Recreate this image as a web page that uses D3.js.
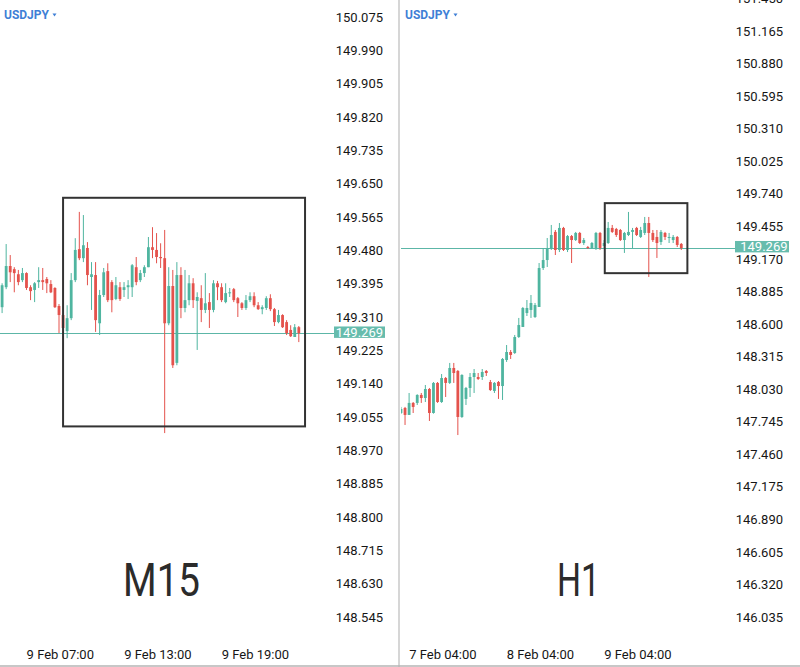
<!DOCTYPE html>
<html><head><meta charset="utf-8">
<script src="https://cdn.jsdelivr.net/npm/d3@7"></script>
<style>html,body{margin:0;padding:0;background:#fff;}svg{display:block;font-family:Roboto,"Noto Sans",sans-serif;}</style>
</head><body><svg id="chart" width="800" height="667"></svg>
<script>
// ---------------- DATA ----------------
const symbol = "USDJPY";
const lastPrice = 149.269;
const m15Title = "M15";
const h1Title = "H1";

// M15 candles [open, high, low, close], starting 9 Feb 03:30, 15-minute bars
const m15Start = "2024-02-09T03:30";
const m15Candles = [
 [149.335,149.396,149.320,149.391],[149.386,149.496,149.381,149.440],[149.440,149.468,149.399,149.424],
 [149.432,149.437,149.373,149.422],[149.419,149.430,149.391,149.399],[149.404,149.435,149.399,149.422],
 [149.422,149.424,149.379,149.384],[149.386,149.391,149.353,149.376],[149.379,149.399,149.348,149.396],
 [149.399,149.437,149.384,149.404],[149.404,149.435,149.379,149.399],[149.407,149.412,149.371,149.396],
 [149.394,149.404,149.371,149.373],[149.384,149.386,149.333,149.335],[149.338,149.343,149.269,149.315],
 [149.315,149.320,149.269,149.282],[149.274,149.340,149.256,149.307],[149.307,149.422,149.302,149.404],
 [149.404,149.511,149.399,149.481],[149.483,149.578,149.455,149.460],[149.460,149.570,149.450,149.493],
 [149.486,149.501,149.391,149.417],[149.412,149.450,149.328,149.419],[149.417,149.450,149.272,149.302],
 [149.294,149.379,149.264,149.366],[149.366,149.435,149.361,149.424],[149.427,149.447,149.348,149.353],
 [149.399,149.404,149.322,149.353],[149.356,149.412,149.353,149.391],[149.386,149.399,149.351,149.356],
 [149.379,149.399,149.361,149.386],[149.386,149.404,149.356,149.391],[149.386,149.445,149.361,149.442],
 [149.437,149.463,149.391,149.399],[149.404,149.430,149.399,149.422],[149.422,149.442,149.412,149.437],
 [149.437,149.514,149.437,149.488],[149.488,149.539,149.460,149.481],[149.481,149.524,149.447,149.463],
 [149.463,149.498,149.435,149.460],[149.460,149.532,149.014,149.294],[149.294,149.437,149.289,149.389],
 [149.389,149.430,149.180,149.187],[149.193,149.450,149.187,149.417],[149.417,149.437,149.307,149.333],
 [149.333,149.430,149.322,149.353],[149.353,149.417,149.340,149.396],[149.396,149.409,149.333,149.353],
 [149.351,149.373,149.226,149.361],[149.358,149.391,149.297,149.328],[149.328,149.422,149.320,149.345],
 [149.348,149.371,149.282,149.328],[149.328,149.404,149.322,149.396],[149.396,149.402,149.353,149.386],
 [149.386,149.396,149.348,149.353],[149.348,149.396,149.345,149.371],[149.371,149.384,149.361,149.373],
 [149.381,149.384,149.348,149.353],[149.358,149.361,149.310,149.345],[149.345,149.348,149.328,149.333],
 [149.333,149.366,149.328,149.353],[149.353,149.373,149.348,149.363],[149.363,149.373,149.335,149.340],
 [149.340,149.348,149.328,149.330],[149.330,149.340,149.317,149.335],[149.333,149.363,149.328,149.358],
 [149.358,149.368,149.325,149.330],[149.330,149.333,149.287,149.297],[149.297,149.328,149.294,149.315],
 [149.315,149.317,149.282,149.284],[149.297,149.302,149.264,149.269],[149.277,149.289,149.259,149.261],
 [149.259,149.292,149.259,149.284],[149.284,149.287,149.246,149.269]
];
const m15PriceTicks = [150.075,149.990,149.905,149.820,149.735,149.650,149.565,149.480,149.395,149.310,
  149.225,149.140,149.055,148.970,148.885,148.800,148.715,148.630,148.545];
const m15TimeTicks = ["2024-02-09T07:00","2024-02-09T13:00","2024-02-09T19:00"];
// highlighted zone on M15: [start time, end time, top price, bottom price]
const m15Box = ["2024-02-09T07:15","2024-02-09T22:08",149.614,149.031];

// H1 candles [open, high, low, close], starting 6 Feb 18:00, hourly bars
const h1Start = "2024-02-06T18:00";
const h1Candles = [
 [147.821,147.874,147.812,147.856],[147.865,147.874,147.716,147.804],[147.804,147.996,147.804,147.909],
 [147.909,147.917,147.821,147.874],[147.909,147.985,147.891,147.979],[147.979,147.996,147.909,147.952],
 [147.952,148.066,147.917,148.031],[148.031,148.040,147.751,147.821],[147.821,148.092,147.815,148.084],
 [148.084,148.092,147.909,147.917],[147.917,148.162,147.909,148.127],[148.127,148.136,147.961,148.084],
 [148.084,148.259,148.075,148.215],[148.215,148.259,148.084,148.171],[148.189,148.197,147.628,147.786],
 [147.786,148.160,147.778,148.154],[147.944,148.049,147.891,148.040],[148.040,148.171,147.961,148.136],
 [148.136,148.206,147.996,148.171],[148.136,148.171,148.110,148.119],[148.136,148.206,148.110,148.180],
 [148.189,148.197,148.145,148.171],[148.092,148.110,148.014,148.022],[148.014,148.092,147.996,148.084],
 [148.092,148.101,147.944,148.057],[148.057,148.302,147.935,148.294],[148.285,148.416,148.268,148.355],
 [148.355,148.372,148.294,148.329],[148.346,148.504,148.338,148.486],[148.486,148.653,148.478,148.591],
 [148.574,148.749,148.574,148.740],[148.696,148.810,148.670,148.740],[148.723,148.854,148.653,148.784],
 [148.661,148.784,148.653,148.766],[148.749,149.134,148.749,149.090],[149.090,149.265,149.073,149.160],
 [149.160,149.353,149.099,149.265],[149.265,149.467,149.248,149.379],[149.406,149.423,149.204,149.248],
 [149.248,149.484,149.230,149.441],[149.441,149.450,149.239,149.248],[149.248,149.379,149.230,149.370],
 [149.370,149.379,149.134,149.335],[149.335,149.406,149.327,149.397],[149.397,149.406,149.301,149.309],
 [149.309,149.353,149.292,149.335],[149.274,149.283,149.257,149.265],[149.265,149.318,149.257,149.309],
 [149.265,149.406,149.248,149.397],[149.397,149.406,149.248,149.265],[149.283,149.335,149.265,149.309],
 [149.309,149.493,149.301,149.441],[149.441,149.467,149.397,149.406],[149.432,149.441,149.362,149.379],
 [149.423,149.432,149.327,149.335],[149.335,149.406,149.222,149.397],[149.379,149.581,149.370,149.406],
 [149.406,149.441,149.265,149.423],[149.441,149.450,149.370,149.379],[149.362,149.450,149.353,149.423],
 [149.397,149.537,149.379,149.484],[149.484,149.537,149.012,149.397],[149.397,149.423,149.318,149.335],
 [149.362,149.423,149.178,149.309],[149.318,149.423,149.292,149.406],[149.397,149.406,149.335,149.362],
 [149.353,149.397,149.309,149.362],[149.335,149.379,149.309,149.362],[149.362,149.370,149.274,149.292],
 [149.301,149.309,149.248,149.265]
];
const h1PriceTicks = [151.450,151.165,150.880,150.595,150.310,150.025,149.740,149.455,149.170,148.885,
  148.600,148.315,148.030,147.745,147.460,147.175,146.890,146.605,146.320,146.035];
const h1TimeTicks = ["2024-02-07T04:00","2024-02-08T04:00","2024-02-09T04:00"];
const h1Box = ["2024-02-08T20:10","2024-02-09T16:30",149.658,149.045];

// ---------------- STYLE ----------------
const UP = "#4fb5a0", DOWN = "#e4524c", PRICE_LINE = "#5cb6a7", PRICE_BOX = "#66bcad";
const parse = d3.timeParse("%Y-%m-%dT%H:%M");
const svg = d3.select("#chart");
svg.append("rect").attr("width",800).attr("height",667).attr("fill","#fff");

function panel(cfg){
  const g = svg.append("g");
  const t0 = parse(cfg.start);
  const data = cfg.candles.map((d,i)=>({t:d3.timeMinute.offset(t0,i*cfg.step),o:d[0],h:d[1],l:d[2],c:d[3]}));
  const x = d3.scaleTime().domain([parse(cfg.timeTicks[0]),parse(cfg.timeTicks[cfg.timeTicks.length-1])]).range(cfg.xRange);
  const y = d3.scaleLinear().domain(cfg.yDomain).range(cfg.yRange);

  const cid = "clip"+cfg.id;
  svg.append("clipPath").attr("id",cid).append("rect").attr("x",cfg.x0).attr("y",0).attr("width",cfg.x1-cfg.x0).attr("height",667);
  const plot = g.append("g").attr("clip-path",`url(#${cid})`);

  // current price line
  const py = Math.round(y(lastPrice))+0.5;
  plot.append("line").attr("x1",cfg.x0).attr("x2",cfg.boxX).attr("y1",py).attr("y2",py)
    .attr("stroke",PRICE_LINE).attr("stroke-width",1);

  // candles
  const cg = plot.selectAll("g.c").data(data).join("g").attr("class","c");
  cg.append("line").attr("x1",d=>x(d.t)).attr("x2",d=>x(d.t)).attr("y1",d=>y(d.h)).attr("y2",d=>y(d.l))
    .attr("stroke",d=>d.c>=d.o?UP:DOWN).attr("stroke-width",1);
  cg.append("rect").attr("x",d=>x(d.t)-1.4).attr("width",2.8)
    .attr("y",d=>y(Math.max(d.o,d.c))).attr("height",d=>Math.max(1,Math.abs(y(d.o)-y(d.c))))
    .attr("fill",d=>d.c>=d.o?UP:DOWN);

  // highlight box
  const b = cfg.box;
  plot.append("rect").attr("x",x(parse(b[0]))).attr("y",y(b[2]))
    .attr("width",x(parse(b[1]))-x(parse(b[0]))).attr("height",y(b[3])-y(b[2]))
    .attr("fill","none").attr("stroke","#333").attr("stroke-width",2);

  // price axis
  const ya = g.append("g").attr("transform",`translate(${cfg.axisX},0)`)
    .call(d3.axisLeft(y).tickValues(cfg.priceTicks).tickFormat(d3.format(".3f")).tickSize(0).tickPadding(0));
  ya.select(".domain").remove();
  ya.selectAll("text").attr("font-size",13).attr("fill","#161616").attr("font-family","Roboto");

  // time axis
  const xa = g.append("g").attr("transform",`translate(0.8,650)`)
    .call(d3.axisBottom(x).tickValues(cfg.timeTicks.map(parse)).tickFormat(d3.timeFormat("%-d %b %H:%M")).tickSize(0).tickPadding(0));
  xa.select(".domain").remove();
  xa.selectAll("text").attr("font-size",13).attr("fill","#161616").attr("font-family","Roboto");

  // last price label
  const ly = y(lastPrice);
  g.append("rect").attr("x",cfg.boxX).attr("y",ly-6.6).attr("width",cfg.boxW).attr("height",11.4).attr("fill",PRICE_BOX);
  g.append("text").attr("x",cfg.boxTextX).attr("y",ly-0.8).attr("dy","0.36em").attr("text-anchor","end")
    .attr("font-size",13).attr("fill","#fff").text(d3.format(".3f")(lastPrice));

  // symbol label
  g.append("text").attr("x",cfg.x0+4).attr("y",19).attr("font-size",12).attr("font-weight",700)
    .attr("fill","#3f7fd6").text(symbol);
  g.append("path").attr("d",`M${cfg.x0+52.5},13.5 L${cfg.x0+56.5},13.5 L${cfg.x0+54.5},16.5Z`).attr("fill","#3f7fd6");

  // big timeframe title
  g.append("text").attr("x",cfg.titleX).attr("y",596).attr("font-size",47).attr("fill","#2b2b2b")
    .attr("font-family","Roboto").attr("textLength",cfg.titleW).attr("lengthAdjust","spacingAndGlyphs").text(cfg.title);
}

panel({id:"m15",start:m15Start,step:15,candles:m15Candles,timeTicks:m15TimeTicks,priceTicks:m15PriceTicks,
  xRange:[59,254.1],yDomain:[150.075,148.545],yRange:[17,617],x0:0,x1:398,axisX:383,
  boxX:334,boxW:51,boxTextX:383,box:m15Box,title:m15Title,titleX:123,titleW:77});
panel({id:"h1",start:h1Start,step:60,candles:h1Candles,timeTicks:h1TimeTicks,priceTicks:h1PriceTicks,
  xRange:[441.6,636.6],yDomain:[151.165,146.035],yRange:[31,617],x0:401,x1:800,axisX:783,
  boxX:735,boxW:54,boxTextX:787.5,box:h1Box,title:h1Title,titleX:557,titleW:43});

// panel divider and bottom border
svg.append("line").attr("x1",399).attr("x2",399).attr("y1",0).attr("y2",667).attr("stroke","#d6d6d6").attr("stroke-width",2);
svg.append("line").attr("x1",0).attr("x2",800).attr("y1",666).attr("y2",666).attr("stroke","#b5b5b5").attr("stroke-width",1.5);
</script></body></html>
